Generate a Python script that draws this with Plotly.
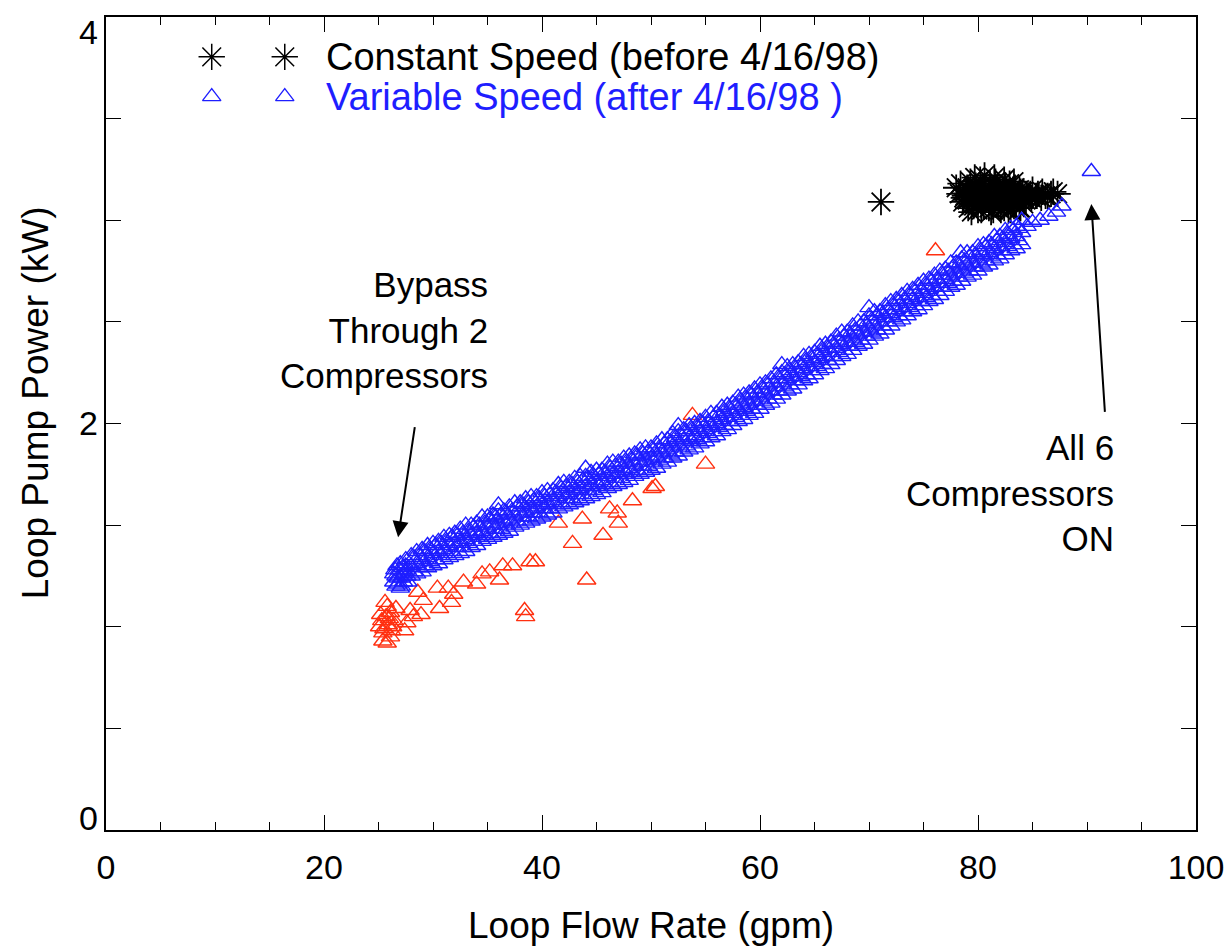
"""Loop pump power vs loop flow rate, constant vs variable speed pumping."""
import plotly.graph_objects as go

# ---- data ----
# constant speed (before 4/16/98), asterisks
const_x = [71.1,
           78.0, 78.4, 78.9, 79.3, 79.8, 80.2, 80.7, 81.1, 81.6, 82.0, 82.5, 82.9, 83.4, 83.8,
           78.3, 78.7, 79.2, 79.6, 80.1, 80.5, 81.0, 81.4, 81.9, 82.3, 82.8, 83.2, 83.7, 84.1,
           84.6, 85.0, 85.5, 85.9, 86.4, 86.9, 87.3,
           78.6, 79.0, 79.5, 79.9, 80.4, 80.8, 81.3, 81.7, 82.2, 82.6, 83.1, 83.5, 84.0, 84.4,
           84.9, 85.3, 85.8, 86.2, 86.7,
           79.1, 79.6, 80.0, 80.5, 81.0, 81.4, 81.9, 82.4, 82.8, 83.3, 83.8, 84.2,
           79.4, 80.3, 81.2, 82.1, 83.0, 83.9,
           79.7, 80.6, 81.5, 82.4, 83.3,
           78.8, 79.4, 80.0, 80.6, 81.2, 81.8, 82.4, 83.0, 83.6, 84.2, 84.8, 85.4,
           79.0, 79.7, 80.4, 81.1, 81.8, 82.5, 83.2, 83.9]
const_y = [3.09,
           3.16, 3.18, 3.15, 3.19, 3.17, 3.20, 3.16, 3.18, 3.19, 3.15, 3.17, 3.18, 3.16, 3.15,
           3.13, 3.11, 3.14, 3.12, 3.13, 3.11, 3.14, 3.12, 3.13, 3.11, 3.14, 3.12, 3.13, 3.14,
           3.12, 3.15, 3.13, 3.14, 3.12, 3.14, 3.13,
           3.09, 3.10, 3.08, 3.11, 3.09, 3.10, 3.08, 3.11, 3.09, 3.08, 3.10, 3.09, 3.11, 3.10,
           3.11, 3.12, 3.11, 3.12, 3.13,
           3.06, 3.07, 3.05, 3.07, 3.06, 3.05, 3.07, 3.06, 3.05, 3.07, 3.06, 3.08,
           3.04, 3.05, 3.04, 3.05, 3.05, 3.06,
           3.21, 3.22, 3.21, 3.20, 3.19,
           3.12, 3.14, 3.11, 3.13, 3.12, 3.14, 3.11, 3.13, 3.12, 3.11, 3.13, 3.12,
           3.16, 3.15, 3.17, 3.15, 3.16, 3.17, 3.15, 3.14]

# variable speed, low-power points (red)
low_x = [25.1, 25.3, 25.5, 25.7, 25.9, 26.1, 26.2, 26.4, 26.6, 25.4, 25.8, 26.0, 25.6, 26.3, 25.2,
         25.4, 25.8, 26.1,
         27.4, 27.6, 27.9, 28.2, 28.6, 29.1, 28.9, 30.4, 30.6, 31.4, 31.7, 31.9, 32.8, 34.0,
         34.5, 35.2, 36.1, 36.4, 37.3, 38.4, 38.5, 38.9, 39.4,
         41.5, 42.8, 43.7, 44.1, 45.6, 46.2, 46.9, 47.0, 48.3, 50.1, 50.4, 53.8, 55.0, 76.1]
low_y = [1.00, 1.03, 0.99, 1.05, 1.01, 1.07, 0.98, 1.03, 1.09, 0.97, 1.10, 1.04, 1.12, 1.00, 1.06,
         0.93, 0.92, 0.95,
         0.98, 1.02, 1.08, 1.05, 1.17, 1.13, 1.06, 1.19, 1.09, 1.19, 1.12, 1.16, 1.22, 1.21,
         1.26, 1.27, 1.23, 1.30, 1.30, 1.08, 1.05, 1.32, 1.32,
         1.51, 1.41, 1.53, 1.23, 1.45, 1.58, 1.56, 1.51, 1.62, 1.68, 1.69, 2.04, 1.80, 2.85]

# variable speed (after 4/16/98), blue triangles
# dense group at the bypass end
blob_x = [26.4, 26.6, 26.8, 26.9, 27.1, 27.3, 27.4, 27.6, 26.5, 26.7, 27.0, 27.2, 27.5, 27.7,
          26.6, 27.0, 27.3, 26.8, 27.6, 26.4, 27.1, 27.5]
blob_y = [1.22, 1.25, 1.21, 1.28, 1.24, 1.22, 1.27, 1.25, 1.28, 1.30, 1.31, 1.29, 1.30, 1.22,
          1.20, 1.19, 1.26, 1.24, 1.28, 1.26, 1.20, 1.33]
# main band: flow values with upper / middle / lower edge of the band
band_x = [28.0, 28.5, 29.0, 29.5, 30.0, 30.5, 31.0, 31.5, 32.0, 32.5, 33.0, 33.5, 34.0, 34.5,
          35.0, 35.5, 36.0, 36.5, 37.0, 37.5, 38.0, 38.5, 39.0, 39.5, 40.0, 40.5, 41.0, 41.5,
          42.0, 42.5, 43.0, 43.5, 44.0, 44.5, 45.0, 45.5, 46.0, 46.5, 47.0, 47.5, 48.0, 48.5,
          49.0, 49.5, 50.0, 50.5, 51.0, 51.5, 52.0, 52.5, 53.0, 53.5, 54.0, 54.5, 55.0, 55.5,
          56.0, 56.5, 57.0, 57.5, 58.0, 58.5, 59.0, 59.5, 60.0, 60.5, 61.0, 61.5, 62.0, 62.5,
          63.0, 63.5, 64.0, 64.5, 65.0, 65.5, 66.0, 66.5, 67.0, 67.5, 68.0, 68.5, 69.0, 69.5,
          70.0, 70.5, 71.0, 71.5, 72.0, 72.5, 73.0, 73.5, 74.0, 74.5, 75.0, 75.5, 76.0, 76.5,
          77.0, 77.5, 78.0, 78.5, 79.0, 79.5, 80.0, 80.5, 81.0, 81.5, 82.0, 82.5, 83.0, 83.5,
          84.0]
band_hi = [1.35, 1.37, 1.38, 1.40, 1.41, 1.42, 1.44, 1.45, 1.46, 1.48, 1.50, 1.50, 1.51, 1.54,
           1.54, 1.55, 1.57, 1.57, 1.59, 1.61, 1.61, 1.63, 1.64, 1.64, 1.66, 1.67, 1.67, 1.70,
           1.71, 1.71, 1.73, 1.74, 1.74, 1.76, 1.77, 1.77, 1.80, 1.81, 1.81, 1.83, 1.84, 1.85,
           1.87, 1.88, 1.88, 1.90, 1.92, 1.92, 1.95, 1.96, 1.97, 1.99, 2.00, 2.01, 2.03, 2.05,
           2.05, 2.08, 2.09, 2.10, 2.13, 2.14, 2.15, 2.17, 2.19, 2.20, 2.22, 2.24, 2.25, 2.28,
           2.29, 2.30, 2.33, 2.34, 2.35, 2.38, 2.39, 2.40, 2.43, 2.45, 2.45, 2.48, 2.50, 2.50,
           2.53, 2.55, 2.55, 2.58, 2.60, 2.61, 2.63, 2.65, 2.66, 2.68, 2.70, 2.71, 2.73, 2.75,
           2.76, 2.79, 2.79, 2.81, 2.84, 2.84, 2.87, 2.88, 2.89, 2.92, 2.92, 2.95, 2.96, 2.97,
           3.00]
band_mid = [1.30, 1.31, 1.33, 1.34, 1.36, 1.37, 1.38, 1.40, 1.41, 1.42, 1.43, 1.45, 1.46, 1.47,
            1.49, 1.50, 1.51, 1.52, 1.53, 1.55, 1.56, 1.57, 1.58, 1.59, 1.60, 1.61, 1.62, 1.64,
            1.65, 1.66, 1.67, 1.68, 1.69, 1.70, 1.71, 1.72, 1.74, 1.75, 1.76, 1.77, 1.78, 1.80,
            1.81, 1.82, 1.83, 1.84, 1.86, 1.87, 1.89, 1.90, 1.92, 1.93, 1.94, 1.96, 1.97, 1.99,
            2.00, 2.02, 2.03, 2.05, 2.07, 2.08, 2.10, 2.11, 2.13, 2.15, 2.16, 2.18, 2.20, 2.22,
            2.23, 2.25, 2.27, 2.28, 2.30, 2.32, 2.33, 2.35, 2.37, 2.39, 2.40, 2.42, 2.44, 2.45,
            2.47, 2.49, 2.50, 2.52, 2.54, 2.56, 2.57, 2.59, 2.61, 2.62, 2.64, 2.66, 2.67, 2.69,
            2.71, 2.73, 2.74, 2.76, 2.78, 2.79, 2.81, 2.83, 2.84, 2.86, 2.87, 2.89, 2.91, 2.92,
            2.94]
band_lo = [1.25, 1.26, 1.27, 1.29, 1.30, 1.31, 1.33, 1.34, 1.35, 1.36, 1.37, 1.39, 1.40, 1.42,
           1.43, 1.44, 1.45, 1.46, 1.47, 1.49, 1.50, 1.51, 1.52, 1.53, 1.54, 1.55, 1.56, 1.58,
           1.59, 1.60, 1.61, 1.62, 1.63, 1.64, 1.65, 1.66, 1.68, 1.69, 1.70, 1.71, 1.72, 1.74,
           1.75, 1.76, 1.77, 1.78, 1.80, 1.81, 1.83, 1.84, 1.86, 1.87, 1.88, 1.90, 1.91, 1.93,
           1.94, 1.96, 1.97, 1.99, 2.01, 2.02, 2.04, 2.05, 2.07, 2.09, 2.10, 2.12, 2.14, 2.16,
           2.17, 2.19, 2.21, 2.22, 2.24, 2.26, 2.27, 2.29, 2.31, 2.33, 2.34, 2.36, 2.38, 2.39,
           2.41, 2.43, 2.44, 2.46, 2.48, 2.50, 2.51, 2.53, 2.55, 2.56, 2.58, 2.60, 2.61, 2.63,
           2.65, 2.67, 2.68, 2.70, 2.72, 2.73, 2.75, 2.77, 2.78, 2.80, 2.81, 2.83, 2.85, 2.86,
           2.88]
# second set of readings, between the flow values above
band2_x = [28.25, 28.75, 29.25, 29.75, 30.25, 30.75, 31.25, 31.75, 32.25, 32.75, 33.25, 33.75,
           34.25, 34.75, 35.25, 35.75, 36.25, 36.75, 37.25, 37.75, 38.25, 38.75, 39.25, 39.75,
           40.25, 40.75, 41.25, 41.75, 42.25, 42.75, 43.25, 43.75, 44.25, 44.75, 45.25, 45.75,
           46.25, 46.75, 47.25, 47.75, 48.25, 48.75, 49.25, 49.75, 50.25, 50.75, 51.25, 51.75,
           52.25, 52.75, 53.25, 53.75, 54.25, 54.75, 55.25, 55.75, 56.25, 56.75, 57.25, 57.75,
           58.25, 58.75, 59.25, 59.75, 60.25, 60.75, 61.25, 61.75, 62.25, 62.75, 63.25, 63.75,
           64.25, 64.75, 65.25, 65.75, 66.25, 66.75, 67.25, 67.75, 68.25, 68.75, 69.25, 69.75,
           70.25, 70.75, 71.25, 71.75, 72.25, 72.75, 73.25, 73.75, 74.25, 74.75, 75.25, 75.75,
           76.25, 76.75, 77.25, 77.75, 78.25, 78.75, 79.25, 79.75, 80.25, 80.75, 81.25, 81.75,
           82.25, 82.75, 83.25, 83.75]
band2_hi = [1.34, 1.35, 1.37, 1.38, 1.40, 1.41, 1.42, 1.44, 1.45, 1.46, 1.47, 1.49, 1.50, 1.51,
            1.53, 1.54, 1.55, 1.56, 1.57, 1.59, 1.60, 1.61, 1.62, 1.63, 1.64, 1.65, 1.66, 1.68,
            1.69, 1.70, 1.71, 1.72, 1.73, 1.74, 1.75, 1.76, 1.78, 1.79, 1.80, 1.81, 1.82, 1.84,
            1.85, 1.86, 1.87, 1.88, 1.90, 1.91, 1.93, 1.94, 1.96, 1.97, 1.98, 2.00, 2.01, 2.03,
            2.04, 2.06, 2.07, 2.09, 2.11, 2.12, 2.14, 2.15, 2.17, 2.19, 2.20, 2.22, 2.24, 2.26,
            2.27, 2.29, 2.31, 2.32, 2.34, 2.36, 2.37, 2.39, 2.41, 2.43, 2.44, 2.46, 2.48, 2.49,
            2.51, 2.53, 2.54, 2.56, 2.58, 2.60, 2.61, 2.63, 2.65, 2.66, 2.68, 2.70, 2.71, 2.73,
            2.75, 2.77, 2.78, 2.80, 2.82, 2.83, 2.85, 2.87, 2.88, 2.90, 2.91, 2.93, 2.95, 2.96]
band2_lo = [1.27, 1.29, 1.30, 1.32, 1.33, 1.35, 1.36, 1.37, 1.39, 1.39, 1.41, 1.42, 1.44, 1.45,
            1.46, 1.48, 1.48, 1.50, 1.51, 1.52, 1.54, 1.54, 1.56, 1.56, 1.58, 1.58, 1.60, 1.61,
            1.63, 1.63, 1.65, 1.65, 1.67, 1.67, 1.69, 1.70, 1.71, 1.73, 1.73, 1.75, 1.76, 1.77,
            1.79, 1.79, 1.81, 1.82, 1.83, 1.85, 1.86, 1.88, 1.89, 1.91, 1.92, 1.93, 1.95, 1.96,
            1.98, 1.99, 2.01, 2.03, 2.04, 2.06, 2.07, 2.09, 2.11, 2.12, 2.14, 2.16, 2.18, 2.19,
            2.21, 2.23, 2.24, 2.26, 2.28, 2.29, 2.31, 2.33, 2.35, 2.36, 2.38, 2.40, 2.41, 2.43,
            2.45, 2.46, 2.48, 2.50, 2.52, 2.53, 2.55, 2.57, 2.58, 2.60, 2.62, 2.63, 2.65, 2.67,
            2.69, 2.70, 2.72, 2.74, 2.75, 2.77, 2.79, 2.80, 2.82, 2.83, 2.85, 2.87, 2.88, 2.90]
# stray points above the band and the sparse high-flow end
extra_x = [36.0, 44.0, 52.5, 62.0, 70.0, 78.4, 84.5, 85.0, 85.7, 86.5, 87.2, 87.7, 90.4]
extra_y = [1.60, 1.78, 1.99, 2.29, 2.57, 2.84, 2.97, 2.99, 3.00, 3.02, 3.04, 3.07, 3.24]

x_major = [0, 20, 40, 60, 80, 100]
y_ticks = [0, 0.5, 1, 1.5, 2, 2.5, 3, 3.5, 4]
y_labels = ["0", "2", "4"]

BLUE = "#1e1eff"
RED = "#ff3010"
FONT = "Liberation Sans, Arial, sans-serif"

var_x = blob_x + band_x + band2_x + band_x + band2_x + band_x + extra_x
var_y = blob_y + band_hi + band2_hi + band_mid + band2_lo + band_lo + extra_y

tri = dict(symbol="triangle-up-open", size=16)

fig = go.Figure()

fig.add_trace(go.Scatter(
    x=const_x, y=const_y, mode="markers", showlegend=False,
    marker=dict(symbol="asterisk-open", size=22, color="black",
                line=dict(color="black", width=1.8)),
))
fig.add_trace(go.Scatter(
    x=low_x, y=low_y, mode="markers", showlegend=False,
    marker=dict(tri, color=RED, line=dict(color=RED, width=1.4)),
))
fig.add_trace(go.Scatter(
    x=var_x, y=var_y, mode="markers", showlegend=False,
    marker=dict(tri, color=BLUE, line=dict(color=BLUE, width=1.4)),
))

# legend keys, drawn on an invisible 0..1 overlay axis
fig.add_trace(go.Scatter(
    x=[0.097, 0.164], y=[0.951, 0.951], mode="markers", showlegend=False,
    xaxis="x2", yaxis="y2",
    marker=dict(symbol="asterisk-open", size=22, color="black",
                line=dict(color="black", width=1.5)),
))
fig.add_trace(go.Scatter(
    x=[0.097, 0.164], y=[0.902, 0.902], mode="markers", showlegend=False,
    xaxis="x2", yaxis="y2",
    marker=dict(tri, color=BLUE, line=dict(color=BLUE, width=1.3)),
))

axis_common = dict(
    showline=True, linecolor="black", linewidth=1.5, mirror="ticks",
    ticks="inside", tickcolor="black", tickwidth=1.2, ticklen=15,
    showgrid=False, zeroline=False,
    tickfont=dict(family=FONT, size=34, color="black"),
)

# the page body has an 8px margin, so the figure is 8px smaller than the window
fig.update_layout(
    width=1224, height=940,
    margin=dict(l=98, r=36, t=7, b=118),
    paper_bgcolor="white", plot_bgcolor="white",
    xaxis=dict(
        axis_common, range=[0, 100], tickmode="array", tickvals=x_major,
        ticklabelstandoff=6,
        minor=dict(dtick=5, tick0=0, ticks="inside", ticklen=8,
                   tickcolor="black", tickwidth=1.2),
    ),
    yaxis=dict(
        axis_common, range=[0, 4], tickmode="array", tickvals=y_ticks,
        showticklabels=False,
    ),
    xaxis2=dict(overlaying="x", range=[0, 1], visible=False),
    yaxis2=dict(overlaying="y", range=[0, 1], visible=False),
)

# y tick labels sit slightly inside the ends, as in the original
for lab, ypos in zip(y_labels, [0.0147, 0.5006, 0.982]):
    fig.add_annotation(x=-0.0156, y=ypos, xref="paper", yref="paper",
                       xanchor="center", yanchor="middle", showarrow=False,
                       text=lab, font=dict(family=FONT, size=34, color="black"))

# axis titles
fig.add_annotation(x=0.5, y=-0.1178, xref="paper", yref="paper",
                   xanchor="center", yanchor="middle", showarrow=False,
                   text="Loop Flow Rate (gpm)",
                   font=dict(family=FONT, size=37, color="black"))
fig.add_annotation(x=-0.0651, y=0.525, xref="paper", yref="paper",
                   xanchor="center", yanchor="middle", showarrow=False,
                   textangle=-90, text="Loop Pump Power (kW)",
                   font=dict(family=FONT, size=37, color="black"))

# legend text
fig.add_annotation(x=0.200, y=0.951, xref="paper", yref="paper", xanchor="left",
                   yanchor="middle", showarrow=False,
                   text="Constant Speed (before 4/16/98)",
                   font=dict(family=FONT, size=38, color="black"))
fig.add_annotation(x=0.200, y=0.902, xref="paper", yref="paper", xanchor="left",
                   yanchor="middle", showarrow=False,
                   text="Variable Speed (after 4/16/98 )",
                   font=dict(family=FONT, size=38, color=BLUE))

ann_font = dict(family=FONT, size=35, color="black")
fig.add_annotation(x=35.2, y=2.46, xref="x", yref="y", xanchor="right", yanchor="middle",
                   align="right", showarrow=False, font=ann_font,
                   text="Bypass<br>Through 2<br>Compressors")
fig.add_annotation(x=92.7, y=1.66, xref="x", yref="y", xanchor="right", yanchor="middle",
                   align="right", showarrow=False, font=ann_font,
                   text="All 6<br>Compressors<br>ON")

# arrows
fig.add_annotation(x=26.8, y=1.44, ax=28.35, ay=1.99, xref="x", yref="y",
                   axref="x", ayref="y", text="", showarrow=True,
                   arrowhead=2, arrowsize=1.6, arrowwidth=2, arrowcolor="black")
fig.add_annotation(x=90.4, y=3.08, ax=91.65, ay=2.05, xref="x", yref="y",
                   axref="x", ayref="y", text="", showarrow=True,
                   arrowhead=2, arrowsize=1.6, arrowwidth=2, arrowcolor="black")

fig.write_html("out.html")
